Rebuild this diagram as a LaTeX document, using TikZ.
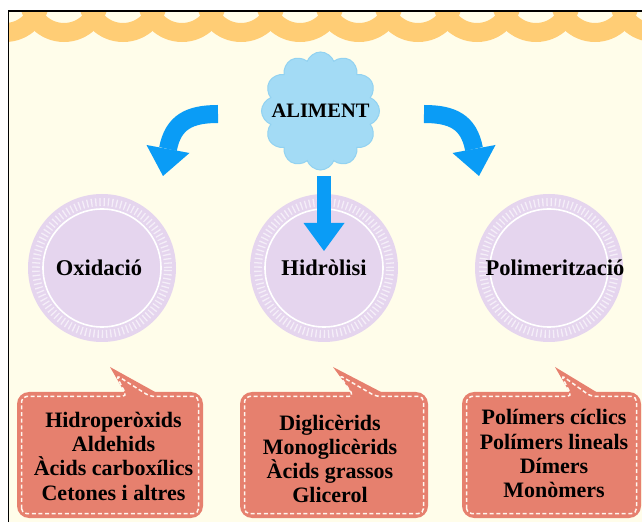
\documentclass[tikz,border=0pt]{standalone}
\usepackage{fontspec}
\setmainfont{Liberation Serif}
\usetikzlibrary{shapes.symbols}
\definecolor{cream}{HTML}{FFFDEA}
\definecolor{bandcol}{HTML}{FFCD75}
\definecolor{cloudblue}{HTML}{A3DBF5}
\definecolor{cloudedge}{HTML}{92D2F1}
\definecolor{arrowblue}{HTML}{0A9CF6}
\definecolor{lav}{HTML}{E5D5EE}
\definecolor{salmon}{HTML}{E6806E}
\definecolor{dashcol}{HTML}{FFF6EE}
\tikzset{
  disc/.style={circle, fill=lav, minimum size=148pt, inner sep=0pt},
  ticks/.style={draw=white, draw opacity=0.6, line width=8pt, dash pattern=on 1.3pt off 2.9pt},
  ringline/.style={draw=white, line width=1.6pt},
  lbl/.style={font=\fontsize{22.5}{24}\selectfont\bfseries, anchor=base, inner sep=0pt},
  boxtxt/.style={font=\fontsize{22}{24}\selectfont\bfseries, anchor=base, inner sep=0pt},
  shaft/.style={draw=arrowblue},
  dashline/.style={draw=dashcol, line width=1.5pt, dash pattern=on 4pt off 2.6pt},
}
\newcommand\mybubble[5]{%
  \fill[salmon, rounded corners=12pt] (#1,4) rectangle (#2,130);
  \fill[salmon] (#4,129) -- (#3,155) -- (#5,129) -- cycle;
  \draw[dashline, rounded corners=5pt] (#1+4.5,8.5) -- (#1+4.5,125.5) -- (#4+2,125.5) -- (#3+6,147) -- (#5-7,125.5) -- (#2-4.5,125.5) -- (#2-4.5,8.5) -- cycle;
}
\begin{document}
\begin{tikzpicture}[x=1pt,y=1pt]
\useasboundingbox (0,0) rectangle (642,522);
\fill[white] (0,0) rectangle (642,522);
\fill[cream] (8,0) rectangle (642,511);
% scalloped band
\begin{scope}
  \clip (8.5,0) rectangle (642,510.5);
  \foreach \i in {0,...,11} \draw[bandcol, line width=19pt] ({5+59*\i},525) circle[radius=35.5];
\end{scope}
\draw[black, line width=1.2pt] (8.3,0) -- (8.3,511) -- (642,511);

% cloud
\node[cloud, cloud puffs=12, cloud puff arc=140, aspect=1, fill=cloudblue, draw=cloudedge, line width=1pt,
      minimum width=118pt, minimum height=118pt, inner sep=0pt] (cl) at (320.5,411) {};
\node[font=\fontsize{20.5}{22}\selectfont\bfseries, inner sep=0pt] (al) at (cl.center) {ALIMENT};

% circles
\foreach \cx/\nm in {102/c1, 324/c2, 549/c3}{
  \node[disc] (\nm) at (\cx,254) {};
  \draw[ticks] (\nm.center) circle[radius=66];
  \draw[ringline] (\nm.center) circle[radius=59];
}
\node[lbl] (l1) at (99,246) {Oxidació};
\node[lbl] (l2) at (324,246) {Hidròlisi};
\node[lbl] (l3) at (555,246) {Polimerització};

% arrows
\coordinate (dtop) at (324,346);
\coordinate (dbase) at (324,299);
\draw[shaft, line width=14pt] (dtop) -- (dbase);
\fill[arrowblue] (303.5,299) -- (324,271) -- (344.5,299) -- cycle;

\coordinate (ltail) at (218,408);
\coordinate (lbase) at (168,373);
\draw[shaft, line width=18pt] (ltail) .. controls (190,408) and (173.2,400.4) .. (lbase);
\fill[arrowblue] (146.5,377) -- (163,346) -- (189.5,369) -- cycle;

\coordinate (rtail) at (424,408);
\coordinate (rbase) at (474,373);
\draw[shaft, line width=18pt] (rtail) .. controls (452,408) and (468.8,400.4) .. (rbase);
\fill[arrowblue] (495.5,377) -- (479,346) -- (452.5,369) -- cycle;

% speech bubbles
\mybubble{17}{203}{110}{125}{157}
\mybubble{240}{428}{333}{352}{383}
\mybubble{462}{641}{555}{570}{598}

\foreach \t [count=\n] in {Hidroperòxids, Aldehids, Àcids carboxílics, Cetones i altres}
  \node[boxtxt] (a\n) at (113.5,{95-24.4*(\n-1)}) {\t};
\foreach \t [count=\n] in {Diglicèrids, Monoglicèrids, Àcids grassos, Glicerol}
  \node[boxtxt] (b\n) at (330,{92-24.2*(\n-1)}) {\t};
\foreach \t [count=\n] in {Polímers cíclics, Polímers lineals, Dímers, Monòmers}
  \node[boxtxt] (p\n) at (554,{97-24.1*(\n-1)}) {\t};
\end{tikzpicture}
\end{document}
